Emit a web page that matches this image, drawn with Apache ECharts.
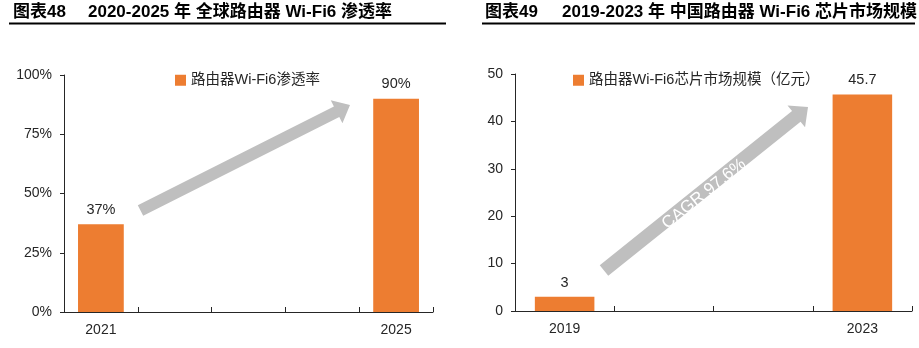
<!DOCTYPE html>
<html>
<head>
<meta charset="utf-8">
<script src="https://cdn.jsdelivr.net/npm/echarts@6/dist/echarts.min.js"></script>
<style>
  html, body { margin: 0; padding: 0; background: #fff; }
  #chart { width: 919px; height: 348px; }
</style>
</head>
<body>
<div id="chart"></div>
<script>
// Left panel: global router Wi-Fi6 penetration
const leftCategories = ['2021', '', '', '', '2025'];
const leftValues = [37, null, null, null, 90];
const leftSeriesName = '路由器Wi-Fi6渗透率';
const leftTicks = { min: 0, max: 100, interval: 25 };

// Right panel: China router Wi-Fi6 chip market size (100M CNY)
const rightCategories = ['2019', '', '', '2023'];
const rightValues = [3, null, null, 45.7];
const rightSeriesName = '路由器Wi-Fi6芯片市场规模（亿元）';
const rightTicks = { min: 0, max: 50, interval: 10 };

const leftTitleTag = '图表48';
const leftTitle = '2020-2025 年 全球路由器 Wi-Fi6 渗透率';
const rightTitleTag = '图表49';
const rightTitle = '2019-2023 年 中国路由器 Wi-Fi6 芯片市场规模';
const cagrText = 'CAGR 97.6%';

const FONT = '"Liberation Sans", Arial, "Noto Sans CJK SC", sans-serif';
const ORANGE = '#ED7D31';
const GREY = '#BFBFBF';
const INK = '#262626';

// Build a block arrow polygon from tail centre to tip
function arrowPoints(tail, tip, shaftW, headW, headL) {
  const dx = tip[0] - tail[0], dy = tip[1] - tail[1];
  const len = Math.hypot(dx, dy);
  const ux = dx / len, uy = dy / len;
  const nx = -uy, ny = ux;
  const bx = tip[0] - ux * headL, by = tip[1] - uy * headL;
  const s = shaftW / 2, h = headW / 2;
  return [
    [tail[0] + nx * s, tail[1] + ny * s],
    [bx + nx * s, by + ny * s],
    [bx + nx * h, by + ny * h],
    [tip[0], tip[1]],
    [bx - nx * h, by - ny * h],
    [bx - nx * s, by - ny * s],
    [tail[0] - nx * s, tail[1] - ny * s]
  ];
}

function xAxisCfg(gridIndex, cats) {
  return {
    type: 'category',
    gridIndex: gridIndex,
    data: cats,
    boundaryGap: true,
    axisLine: { show: true, lineStyle: { color: INK, width: 1 } },
    axisTick: { show: true, inside: true, length: 5, interval: 0, lineStyle: { color: INK } },
    axisLabel: { interval: 0, color: INK, fontSize: 14, fontFamily: FONT, margin: 11 },
    splitLine: { show: false }
  };
}

function yAxisCfg(gridIndex, ticks, fmt) {
  return {
    type: 'value',
    gridIndex: gridIndex,
    min: ticks.min, max: ticks.max, interval: ticks.interval,
    axisLine: { show: true, lineStyle: { color: INK, width: 1 } },
    axisTick: { show: true, inside: false, length: 4, lineStyle: { color: INK } },
    axisLabel: { color: INK, fontSize: 14, fontFamily: FONT, margin: 12, formatter: fmt },
    splitLine: { show: false }
  };
}

const chart = echarts.init(document.getElementById('chart'), null, { renderer: 'canvas' });

const titleStyle = { fill: '#000', fontSize: 17, fontWeight: 'bold', fontFamily: FONT, verticalAlign: 'middle' };

const angleR = Math.atan2(270.5 - 107, 808 - 604);

chart.setOption({
  animation: false,
  backgroundColor: '#fff',
  grid: [
    { left: 64, top: 75, width: 369, height: 237 },
    { left: 515, top: 74, width: 397, height: 237 }
  ],
  legend: [
    {
      data: [leftSeriesName], left: 175, top: 73, padding: 0,
      icon: 'rect', itemWidth: 11, itemHeight: 11,
      textStyle: { color: INK, fontSize: 14.5, fontFamily: FONT }
    },
    {
      data: [rightSeriesName], left: 573, top: 73, padding: 0,
      icon: 'rect', itemWidth: 11, itemHeight: 11,
      textStyle: { color: INK, fontSize: 14.5, fontFamily: FONT }
    }
  ],
  xAxis: [xAxisCfg(0, leftCategories), xAxisCfg(1, rightCategories)],
  yAxis: [yAxisCfg(0, leftTicks, '{value}%'), yAxisCfg(1, rightTicks, '{value}')],
  series: [
    {
      name: leftSeriesName, type: 'bar', xAxisIndex: 0, yAxisIndex: 0,
      data: leftValues, barWidth: '62%',
      itemStyle: { color: ORANGE },
      label: { show: true, position: 'top', distance: 7, formatter: '{c}%', color: INK, fontSize: 14.5, fontFamily: FONT }
    },
    {
      name: rightSeriesName, type: 'bar', xAxisIndex: 1, yAxisIndex: 1,
      data: rightValues, barWidth: '60%',
      itemStyle: { color: ORANGE },
      label: { show: true, position: 'top', distance: 7, formatter: '{c}', color: INK, fontSize: 14.5, fontFamily: FONT }
    }
  ],
  graphic: [
    { type: 'text', left: 13, top: 4, style: Object.assign({ text: leftTitleTag }, titleStyle) },
    { type: 'text', left: 88, top: 4, style: Object.assign({ text: leftTitle }, titleStyle) },
    { type: 'rect', shape: { x: 9, y: 22.5, width: 437, height: 2 }, style: { fill: '#000' } },
    { type: 'text', left: 485, top: 4, style: Object.assign({ text: rightTitleTag }, titleStyle) },
    { type: 'text', left: 562, top: 4, style: Object.assign({ text: rightTitle }, titleStyle) },
    { type: 'rect', shape: { x: 482, y: 22.5, width: 433, height: 2 }, style: { fill: '#000' } },
    {
      type: 'polygon', z: 10,
      shape: { points: arrowPoints([140.5, 210.5], [350, 105], 12, 26, 15) },
      style: { fill: GREY }
    },
    {
      type: 'polygon', z: 10,
      shape: { points: arrowPoints([604, 270.5], [808, 107], 13.6, 28, 15) },
      style: { fill: GREY }
    },
    {
      type: 'text', z: 11, x: 704, y: 194, rotation: angleR,
      style: { text: cagrText, fill: '#fff', fontSize: 17, fontFamily: FONT, align: 'center', verticalAlign: 'middle' }
    }
  ]
});
</script>
</body>
</html>
